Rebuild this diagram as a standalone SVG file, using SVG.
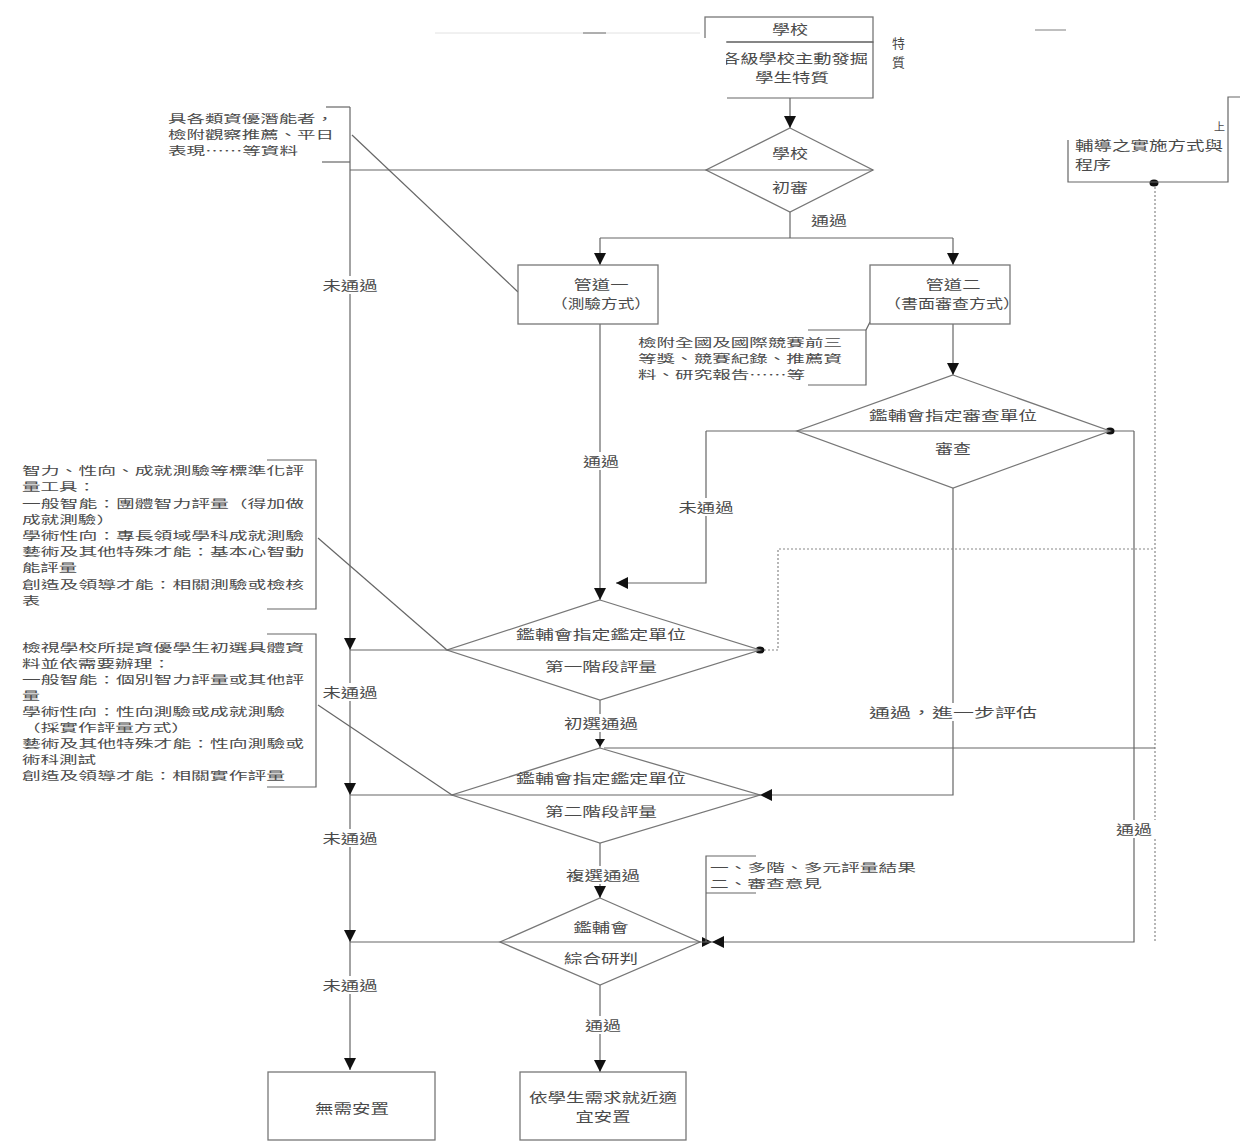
<svg xmlns="http://www.w3.org/2000/svg" width="1240" height="1142" viewBox="0 0 1240 1142">
<style>
text{font-family:"Noto Sans CJK TC","Noto Sans CJK SC",sans-serif;font-size:13px;fill:#4a4a4a;letter-spacing:0}
.c{text-anchor:middle}
.a{font-size:11px}
.ln{fill:none;stroke:#666;stroke-width:1.2}
.dt{fill:none;stroke:#888;stroke-width:1.2;stroke-dasharray:2 2}
.bx{fill:#fff;stroke:#777;stroke-width:1.3}
.bg{fill:#fff}
</style>
<defs>
<marker id="ar" markerUnits="userSpaceOnUse" markerWidth="12" markerHeight="12" viewBox="0 0 10 10" refX="10" refY="5" orient="auto">
<path d="M0,0 L10,5 L0,10 z" fill="#111"/>
</marker>
</defs>
<rect width="1240" height="1142" fill="#fff"/>

<g id="artifacts">
<line x1="435" y1="33" x2="700" y2="33" stroke="#e2e2e2" stroke-width="1"/>
<line x1="583" y1="33" x2="606" y2="33" stroke="#999" stroke-width="1.5"/>
<line x1="1035" y1="30" x2="1066" y2="30" stroke="#aaa" stroke-width="1.5"/>
</g>

<g id="connectors">
<line class="ln" x1="790" y1="98" x2="790" y2="128" marker-end="url(#ar)"/>
<line class="ln" x1="350" y1="170" x2="706" y2="170"/>
<line class="ln" x1="350" y1="107" x2="350" y2="650" marker-end="url(#ar)"/>
<line class="ln" x1="350" y1="650" x2="350" y2="795" marker-end="url(#ar)"/>
<line class="ln" x1="350" y1="795" x2="350" y2="942" marker-end="url(#ar)"/>
<line class="ln" x1="350" y1="942" x2="350" y2="1070" marker-end="url(#ar)"/>
<polyline class="ln" points="790,212 790,238"/>
<line class="ln" x1="600" y1="238" x2="953" y2="238"/>
<line class="ln" x1="600" y1="238" x2="600" y2="265" marker-end="url(#ar)"/>
<line class="ln" x1="953" y1="238" x2="953" y2="265" marker-end="url(#ar)"/>
<line class="ln" x1="600" y1="324" x2="600" y2="600" marker-end="url(#ar)"/>
<line class="ln" x1="953" y1="324" x2="953" y2="375" marker-end="url(#ar)"/>
<line class="ln" x1="706" y1="431" x2="1134" y2="431"/>
<polyline class="ln" points="706,431 706,583 616,583" marker-end="url(#ar)"/>
<polyline class="ln" points="1134,431 1134,942 712,942" marker-end="url(#ar)"/>
<path d="M712,942 L702,937 L702,947 z" fill="#111"/>
<line class="dt" x1="1155" y1="183" x2="1155" y2="942"/>
<polyline class="ln" points="953,488 953,795 760,795" marker-end="url(#ar)"/>
<line class="ln" x1="350" y1="650" x2="760" y2="650"/>
<polyline class="dt" points="760,650 778,650 778,549 1155,549"/>
<line class="ln" x1="600" y1="700" x2="600" y2="748"/>
<path d="M595,739 L605,739 L600,747 z M595,756 L605,756 L600,748 z" fill="#111"/>
<line class="ln" x1="1155" y1="748" x2="604" y2="748"/>
<line class="ln" x1="350" y1="795" x2="760" y2="795"/>
<line class="ln" x1="600" y1="843" x2="600" y2="898" marker-end="url(#ar)"/>
<line class="ln" x1="350" y1="942" x2="712" y2="942"/>
<line class="ln" x1="600" y1="985" x2="600" y2="1072" marker-end="url(#ar)"/>
<line class="ln" x1="352" y1="135" x2="518" y2="292"/>
<line class="ln" x1="318" y1="538" x2="447" y2="650"/>
<line class="ln" x1="318" y1="705" x2="452" y2="795"/>
<line class="ln" x1="866" y1="330" x2="870" y2="322"/>
<ellipse cx="1110" cy="431" rx="4.5" ry="3.5" fill="#111"/>
<ellipse cx="760" cy="650" rx="4.5" ry="3.5" fill="#111"/>
<ellipse cx="1154" cy="183" rx="4.5" ry="3.5" fill="#111"/>
<rect class="bg" x="320" y="276" width="60" height="18"/><text class="c" x="350" y="290" textLength="55" lengthAdjust="spacingAndGlyphs">未通過</text>
<rect class="bg" x="320" y="683" width="60" height="18"/><text class="c" x="350" y="697" textLength="55" lengthAdjust="spacingAndGlyphs">未通過</text>
<rect class="bg" x="320" y="829" width="60" height="18"/><text class="c" x="350" y="843" textLength="55" lengthAdjust="spacingAndGlyphs">未通過</text>
<rect class="bg" x="320" y="976" width="60" height="18"/><text class="c" x="350" y="990" textLength="55" lengthAdjust="spacingAndGlyphs">未通過</text>
<text class="c" x="829" y="225" textLength="36" lengthAdjust="spacingAndGlyphs">通過</text>
<rect class="bg" x="580" y="452" width="42" height="18"/><text class="c" x="601" y="466" textLength="36" lengthAdjust="spacingAndGlyphs">通過</text>
<rect class="bg" x="676" y="498" width="60" height="18"/><text class="c" x="706" y="512" textLength="55" lengthAdjust="spacingAndGlyphs">未通過</text>
<rect class="bg" x="866" y="703" width="176" height="18"/><text class="c" x="953" y="717" textLength="168" lengthAdjust="spacingAndGlyphs">通過，進一步評估</text>
<rect class="bg" x="562" y="714" width="78" height="18"/><text class="c" x="601" y="728" textLength="74" lengthAdjust="spacingAndGlyphs">初選通過</text>
<rect class="bg" x="564" y="866" width="80" height="18"/><text class="c" x="603" y="880" textLength="74" lengthAdjust="spacingAndGlyphs">複選通過</text>
<rect class="bg" x="580" y="1016" width="44" height="18"/><text class="c" x="603" y="1030" textLength="36" lengthAdjust="spacingAndGlyphs">通過</text>
<rect class="bg" x="1112" y="820" width="44" height="18"/><text class="c" x="1134" y="834" textLength="36" lengthAdjust="spacingAndGlyphs">通過</text>
</g>

<g id="school">
<rect class="bx" x="705" y="17" width="168" height="25"/>
<text class="c" x="790" y="34" textLength="36" lengthAdjust="spacingAndGlyphs">學校</text>
<polyline class="ln" points="727,42 873,42 873,98 727,98"/>
<text class="c" x="795" y="63" textLength="146" lengthAdjust="spacingAndGlyphs">各級學校主動發掘</text>
<text class="c" x="792" y="82" textLength="74" lengthAdjust="spacingAndGlyphs">學生特質</text>
<rect class="bg" x="600" y="38" width="126" height="60"/>
<text x="892" y="48">特</text>
<text x="892" y="67">質</text>
</g>

<g id="note-top">
<polyline class="ln" points="326,107 350,107"/>
<polyline class="ln" points="322,162 350,162"/>
<text class="a" x="168" y="123" textLength="166" lengthAdjust="spacingAndGlyphs">具各類資優潛能者，</text>
<text class="a" x="168" y="139" textLength="166" lengthAdjust="spacingAndGlyphs">檢附觀察推薦、平日</text>
<text class="a" x="168" y="155" textLength="130" lengthAdjust="spacingAndGlyphs">表現……等資料</text>
</g>

<g id="note-right">
<polyline class="ln" points="1068,140 1068,182 1228,182 1228,97 1240,97"/>
<text class="a" x="1214" y="131">上</text>
<text x="1075" y="150" textLength="148" lengthAdjust="spacingAndGlyphs">輔導之實施方式與</text>
<text x="1075" y="169" textLength="36" lengthAdjust="spacingAndGlyphs">程序</text>
</g>

<g id="initial-review">
<polygon class="bx" points="790,128 873,170 790,212 706,170"/>
<line class="ln" x1="706" y1="170" x2="873" y2="170"/>
<text class="c" x="790" y="158" textLength="36" lengthAdjust="spacingAndGlyphs">學校</text>
<text class="c" x="790" y="192" textLength="36" lengthAdjust="spacingAndGlyphs">初審</text>
</g>

<g id="channel1">
<rect class="bx" x="518" y="265" width="140" height="59"/>
<text class="c" x="601" y="289" textLength="55" lengthAdjust="spacingAndGlyphs">管道一</text>
<text class="c" x="601" y="308" textLength="100" lengthAdjust="spacingAndGlyphs">（測驗方式）</text>
</g>

<g id="channel2">
<rect class="bx" x="870" y="265" width="140" height="59"/>
<text class="c" x="953" y="289" textLength="55" lengthAdjust="spacingAndGlyphs">管道二</text>
<text class="c" x="952" y="308" textLength="136" lengthAdjust="spacingAndGlyphs">（書面審查方式）</text>
</g>

<g id="note-channel2">
<polyline class="ln" points="808,330 866,330 866,385 808,385"/>
<text class="a" x="638" y="347" textLength="204" lengthAdjust="spacingAndGlyphs">檢附全國及國際競賽前三</text>
<text class="a" x="638" y="363" textLength="204" lengthAdjust="spacingAndGlyphs">等獎、競賽紀錄、推薦資</text>
<text class="a" x="638" y="379" textLength="167" lengthAdjust="spacingAndGlyphs">料、研究報告……等</text>
</g>

<g id="review">
<polygon class="bx" points="953,375 1110,431 953,488 797,431"/>
<line class="ln" x1="797" y1="431" x2="1110" y2="431"/>
<text class="c" x="953" y="420" textLength="168" lengthAdjust="spacingAndGlyphs">鑑輔會指定審查單位</text>
<text class="c" x="953" y="453" textLength="36" lengthAdjust="spacingAndGlyphs">審查</text>
</g>

<g id="note-tests">
<polyline class="ln" points="267,460 316,460 316,609 267,609"/>
<text class="a" x="22" y="475" textLength="282" lengthAdjust="spacingAndGlyphs">智力、性向、成就測驗等標準化評</text>
<text class="a" x="22" y="491" textLength="74" lengthAdjust="spacingAndGlyphs">量工具：</text>
<text class="a" x="22" y="508" textLength="282" lengthAdjust="spacingAndGlyphs">一般智能：團體智力評量（得加做</text>
<text class="a" x="22" y="524" textLength="93" lengthAdjust="spacingAndGlyphs">成就測驗）</text>
<text class="a" x="22" y="540" textLength="282" lengthAdjust="spacingAndGlyphs">學術性向：專長領域學科成就測驗</text>
<text class="a" x="22" y="556" textLength="282" lengthAdjust="spacingAndGlyphs">藝術及其他特殊才能：基本心智動</text>
<text class="a" x="22" y="572" textLength="55" lengthAdjust="spacingAndGlyphs">能評量</text>
<text class="a" x="22" y="589" textLength="282" lengthAdjust="spacingAndGlyphs">創造及領導才能：相關測驗或檢核</text>
<text class="a" x="22" y="605" textLength="18" lengthAdjust="spacingAndGlyphs">表</text>
</g>

<g id="stage1">
<polygon class="bx" points="600,600 760,650 600,700 447,650"/>
<line class="ln" x1="447" y1="650" x2="760" y2="650"/>
<text class="c" x="601" y="639" textLength="170" lengthAdjust="spacingAndGlyphs">鑑輔會指定鑑定單位</text>
<text class="c" x="601" y="671" textLength="112" lengthAdjust="spacingAndGlyphs">第一階段評量</text>
</g>

<g id="note-stage2">
<polyline class="ln" points="267,634 316,634 316,787 267,787"/>
<text class="a" x="22" y="652" textLength="282" lengthAdjust="spacingAndGlyphs">檢視學校所提資優學生初選具體資</text>
<text class="a" x="22" y="668" textLength="149" lengthAdjust="spacingAndGlyphs">料並依需要辦理：</text>
<text class="a" x="22" y="684" textLength="282" lengthAdjust="spacingAndGlyphs">一般智能：個別智力評量或其他評</text>
<text class="a" x="22" y="700" textLength="18" lengthAdjust="spacingAndGlyphs">量</text>
<text class="a" x="22" y="716" textLength="263" lengthAdjust="spacingAndGlyphs">學術性向：性向測驗或成就測驗</text>
<text class="a" x="22" y="732" textLength="168" lengthAdjust="spacingAndGlyphs">（採實作評量方式）</text>
<text class="a" x="22" y="748" textLength="282" lengthAdjust="spacingAndGlyphs">藝術及其他特殊才能：性向測驗或</text>
<text class="a" x="22" y="764" textLength="74" lengthAdjust="spacingAndGlyphs">術科測試</text>
<text class="a" x="22" y="780" textLength="263" lengthAdjust="spacingAndGlyphs">創造及領導才能：相關實作評量</text>
</g>

<g id="stage2">
<polygon class="bx" points="600,748 760,795 600,843 452,795"/>
<line class="ln" x1="452" y1="795" x2="760" y2="795"/>
<text class="c" x="601" y="783" textLength="170" lengthAdjust="spacingAndGlyphs">鑑輔會指定鑑定單位</text>
<text class="c" x="601" y="816" textLength="112" lengthAdjust="spacingAndGlyphs">第二階段評量</text>
</g>

<g id="note-final">
<polyline class="ln" points="756,856 706,856 706,942"/>
<line class="ln" x1="706" y1="893" x2="756" y2="893"/>
<text class="a" x="710" y="872" textLength="206" lengthAdjust="spacingAndGlyphs">一、多階、多元評量結果</text>
<text class="a" x="710" y="888" textLength="112" lengthAdjust="spacingAndGlyphs">二、審查意見</text>
</g>

<g id="final">
<polygon class="bx" points="600,898 700,942 600,985 500,942"/>
<line class="ln" x1="500" y1="942" x2="700" y2="942"/>
<text class="c" x="601" y="932" textLength="55" lengthAdjust="spacingAndGlyphs">鑑輔會</text>
<text class="c" x="601" y="963" textLength="74" lengthAdjust="spacingAndGlyphs">綜合研判</text>
</g>

<g id="no-placement">
<rect class="bx" x="268" y="1072" width="167" height="68"/>
<text class="c" x="352" y="1113" textLength="74" lengthAdjust="spacingAndGlyphs">無需安置</text>
</g>

<g id="placement">
<rect class="bx" x="520" y="1072" width="166" height="68"/>
<text class="c" x="603" y="1102" textLength="148" lengthAdjust="spacingAndGlyphs">依學生需求就近適</text>
<text class="c" x="603" y="1121" textLength="55" lengthAdjust="spacingAndGlyphs">宜安置</text>
</g>
</svg>
